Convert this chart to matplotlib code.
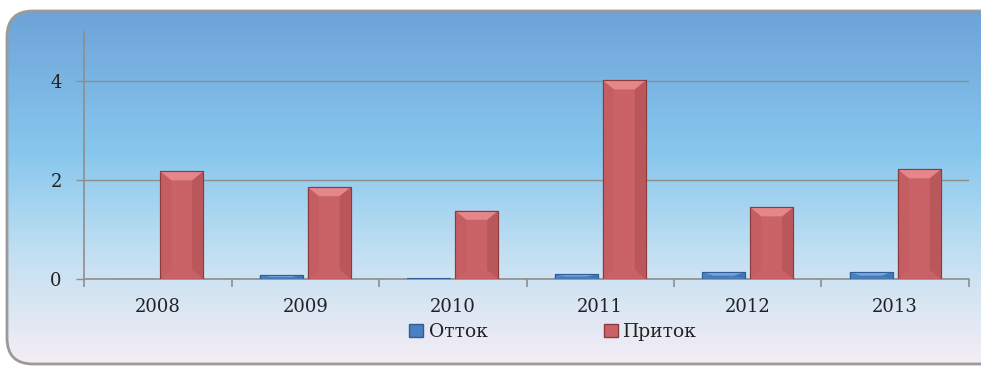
import numpy as np
import matplotlib
matplotlib.use("Agg")
import matplotlib.pyplot as plt
from matplotlib.patches import FancyBboxPatch, Polygon, Patch
from matplotlib.colors import LinearSegmentedColormap

years = ["2008", "2009", "2010", "2011", "2012", "2013"]
outflow = [0.01, 0.08, 0.03, 0.10, 0.14, 0.14]   # Отток
inflow = [2.18, 1.86, 1.38, 4.02, 1.45, 2.22]    # Приток
series_names = ["Отток", "Приток"]
y_ticks = [0, 2, 4]

plt.rcParams["font.family"] = ["DejaVu Serif"]

W, H, DPI = 981, 366, 100
fig = plt.figure(figsize=(W / DPI, H / DPI), dpi=DPI)
fig.patch.set_facecolor("white")

# rounded panel with a vertical gradient
bg = fig.add_axes([0, 0, 1, 1], zorder=0)
bg.set_xlim(0, W)
bg.set_ylim(H, 0)
bg.axis("off")
grad = LinearSegmentedColormap.from_list(
    "panel",
    [(0.0, (0.43, 0.64, 0.85)),
     (0.40, (0.53, 0.78, 0.93)),
     (0.70, (0.77, 0.88, 0.95)),
     (1.0, (0.96, 0.93, 0.96))])
img = bg.imshow(np.linspace(0, 1, 256)[:, None], aspect="auto", cmap=grad,
                extent=[7, 981, 364, 11])
panel = FancyBboxPatch((7, 11), 1000, 353, boxstyle="round,pad=0,rounding_size=26",
                       facecolor="none", edgecolor="#9a9a9a", linewidth=2.0)
bg.add_patch(panel)
img.set_clip_path(panel)

ax = fig.add_axes([84 / W, 1 - 279 / H, (969 - 84) / W, (279 - 32) / H], zorder=1)
ax.patch.set_alpha(0)
n = len(years)
x = np.arange(n)
bw = 0.29
off = 0.163
ax.set_xlim(-0.5, n - 0.5)
ax.set_ylim(0, 5)

blue_face, blue_edge = "#4a7fc0", "#2f5d95"
red_face, red_edge = "#ca6367", "#8a3b3c"
b1 = ax.bar(x - off, outflow, bw, color=blue_face, edgecolor=blue_edge, linewidth=0.8, zorder=3)
b2 = ax.bar(x + off, inflow, bw, color=red_face, edgecolor=red_edge, linewidth=0.8, zorder=3)

# bevel shading on each bar
fig.canvas.draw()
to_px = ax.transData
to_data = ax.transData.inverted()


def bevel(bar, top, bottom, side_l, side_r):
    x0, y0 = bar.get_x(), bar.get_y()
    x1, y1 = x0 + bar.get_width(), y0 + bar.get_height()
    (px0, py0), (px1, py1) = to_px.transform([(x0, y0), (x1, y1)])
    by = min(9.0, (py1 - py0) / 2.0)
    bx = min(11.0, (px1 - px0) / 2.0)
    if by < 1.0:
        return
    outer = [(px0, py1), (px1, py1), (px1, py0), (px0, py0)]
    inner = [(px0 + bx, py1 - by), (px1 - bx, py1 - by), (px1 - bx, py0 + by), (px0 + bx, py0 + by)]
    faces = [
        ([outer[1], outer[2], inner[2], inner[1]], side_r),
        ([outer[3], outer[0], inner[0], inner[3]], side_l),
        ([outer[2], outer[3], inner[3], inner[2]], bottom),
        ([outer[0], outer[1], inner[1], inner[0]], top),
    ]
    for pts, c in faces:
        ax.add_patch(Polygon(to_data.transform(pts), closed=True, facecolor=c,
                             edgecolor="none", zorder=3.5))
    ax.add_patch(Polygon(to_data.transform(outer), closed=True, facecolor="none",
                         edgecolor=bar.get_edgecolor(), linewidth=0.8, zorder=3.6))


for bar in b1:
    bevel(bar, "#79a4da", "#4a7cbb", "#4d82c2", "#4474b3")
for bar in b2:
    bevel(bar, "#e4868a", "#c86266", "#c45e62", "#ba575b")

grid_c = "#8e8e8e"
ax.set_yticks(y_ticks)
ax.yaxis.grid(True, color=grid_c, linewidth=1.0, zorder=1)
ax.set_axisbelow(True)
for s in ["top", "right"]:
    ax.spines[s].set_visible(False)
for s in ["left", "bottom"]:
    ax.spines[s].set_color(grid_c)
    ax.spines[s].set_linewidth(1.2)
ax.tick_params(axis="y", length=6, width=1.0, color=grid_c, pad=10, labelsize=13, labelcolor="#222222")
ax.set_xticks(x)
ax.set_xticklabels(years)
ax.tick_params(axis="x", which="major", length=0, pad=14, labelsize=13, labelcolor="#222222")
ax.set_xticks(np.arange(n + 1) - 0.5, minor=True)
ax.tick_params(axis="x", which="minor", length=6, width=1.2, color=grid_c)

handles = [Patch(facecolor=blue_face, edgecolor=blue_edge), Patch(facecolor=red_face, edgecolor=red_edge)]
fig.legend(handles, series_names, loc="center", bbox_to_anchor=(553 / W, 1 - 332 / H),
           ncol=2, frameon=False, fontsize=13.5, handlelength=0.75, handleheight=0.75,
           handletextpad=0.3, columnspacing=6.2, labelcolor="#222222")

fig.savefig("out.png", dpi=DPI)
